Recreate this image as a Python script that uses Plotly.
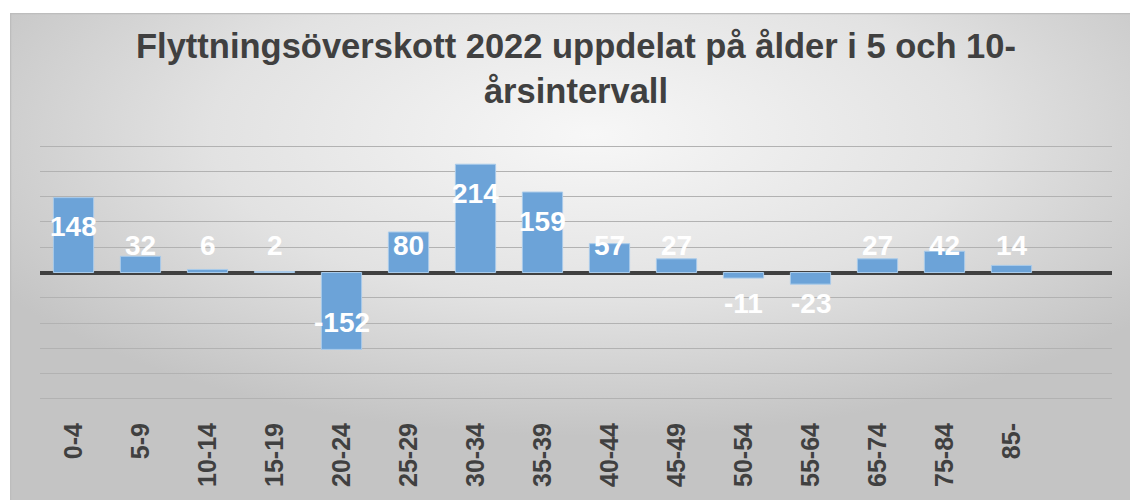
import base64
import plotly.graph_objects as go

# ---- data ----
age_groups = ["0-4", "5-9", "10-14", "15-19", "20-24", "25-29", "30-34", "35-39",
              "40-44", "45-49", "50-54", "55-64", "65-74", "75-84", "85-"]
net_migration = [148, 32, 6, 2, -152, 80, 214, 159, 57, 27, -11, -23, 27, 42, 14]
title_text = "Flyttningsöverskott 2022 uppdelat på ålder i 5 och 10-<br>årsintervall"
y_range = [-252, 252]

W, H = 1130, 500
L, R, T, B = 40, 18, 145, 100
plot_w = W - L - R
plot_h = H - T - B

FONT = "Liberation Sans, Arial, sans-serif"

# background gradient (styling only)
svg = f"""<svg xmlns='http://www.w3.org/2000/svg' width='1120' height='487' viewBox='0 0 1120 487' preserveAspectRatio='none'>
<defs><radialGradient id='g' cx='0.52' cy='0.25' r='0.62'>
<stop offset='0' stop-color='#f7f7f7'/><stop offset='0.55' stop-color='#e2e2e2'/><stop offset='1' stop-color='#c4c4c4'/>
</radialGradient></defs>
<rect x='0' y='0' width='1120' height='487' fill='url(#g)'/>
<line x1='0' y1='0.5' x2='1120' y2='0.5' stroke='#bdbdbd' stroke-width='1.5'/>
<line x1='0.5' y1='0' x2='0.5' y2='487' stroke='#bdbdbd' stroke-width='1.5'/>
</svg>"""
svg_uri = "data:image/svg+xml;base64," + base64.b64encode(svg.encode()).decode()

def px_to_paper_x(px):
    return (px - L) / plot_w

def px_to_paper_y(py):
    return (H - B - py) / plot_h

fig = go.Figure()
fig.add_trace(go.Bar(
    x=age_groups, y=net_migration,
    marker=dict(color="#6ca3d8", line=dict(color="#a9cbea", width=1)),
    width=0.6, hoverinfo="x+y",
))

annotations = []
for cat, v in zip(age_groups, net_migration):
    if v >= 100:
        yy, sh = v, -29
    elif v >= 0:
        yy, sh = 0, 27
    elif v <= -100:
        yy, sh = v, 27
    else:
        yy, sh = 0, -31
    annotations.append(dict(
        x=cat, y=yy, yshift=sh, text=str(v), showarrow=False,
        xref="x", yref="y",
        font=dict(family=FONT, size=28, color="white", weight="bold"),
    ))

fig.update_layout(
    width=W, height=H,
    margin=dict(l=L, r=R, t=T, b=B, pad=0),
    paper_bgcolor="white",
    plot_bgcolor="rgba(0,0,0,0)",
    showlegend=False,
    title=dict(
        text=title_text, x=0.5, xref="paper", xanchor="center",
        y=1 - 58 / H, yref="container", yanchor="top",
        font=dict(family=FONT, size=34.5, color="#404040", weight="bold"),
    ),
    images=[dict(
        source=svg_uri, xref="paper", yref="paper",
        x=px_to_paper_x(10), y=px_to_paper_y(13),
        sizex=px_to_paper_x(W) - px_to_paper_x(10),
        sizey=px_to_paper_y(13) - px_to_paper_y(H),
        xanchor="left", yanchor="top", sizing="stretch", layer="below",
    )],
    annotations=annotations,
    xaxis=dict(
        range=[-0.5, 15.5], tickangle=-90, showgrid=False, showline=False,
        ticks="", ticklabelstandoff=17,
        tickfont=dict(family=FONT, size=25, color="#404040", weight="bold"),
    ),
    yaxis=dict(
        range=y_range, dtick=50, showticklabels=False, ticks="",
        showgrid=True, gridcolor="#b2b2b2", gridwidth=1.2,
        zeroline=True, zerolinecolor="#404040", zerolinewidth=3.5,
    ),
)

fig.write_html("out.html", config={"displayModeBar": False},
               post_script="document.body.style.margin='0px';")
